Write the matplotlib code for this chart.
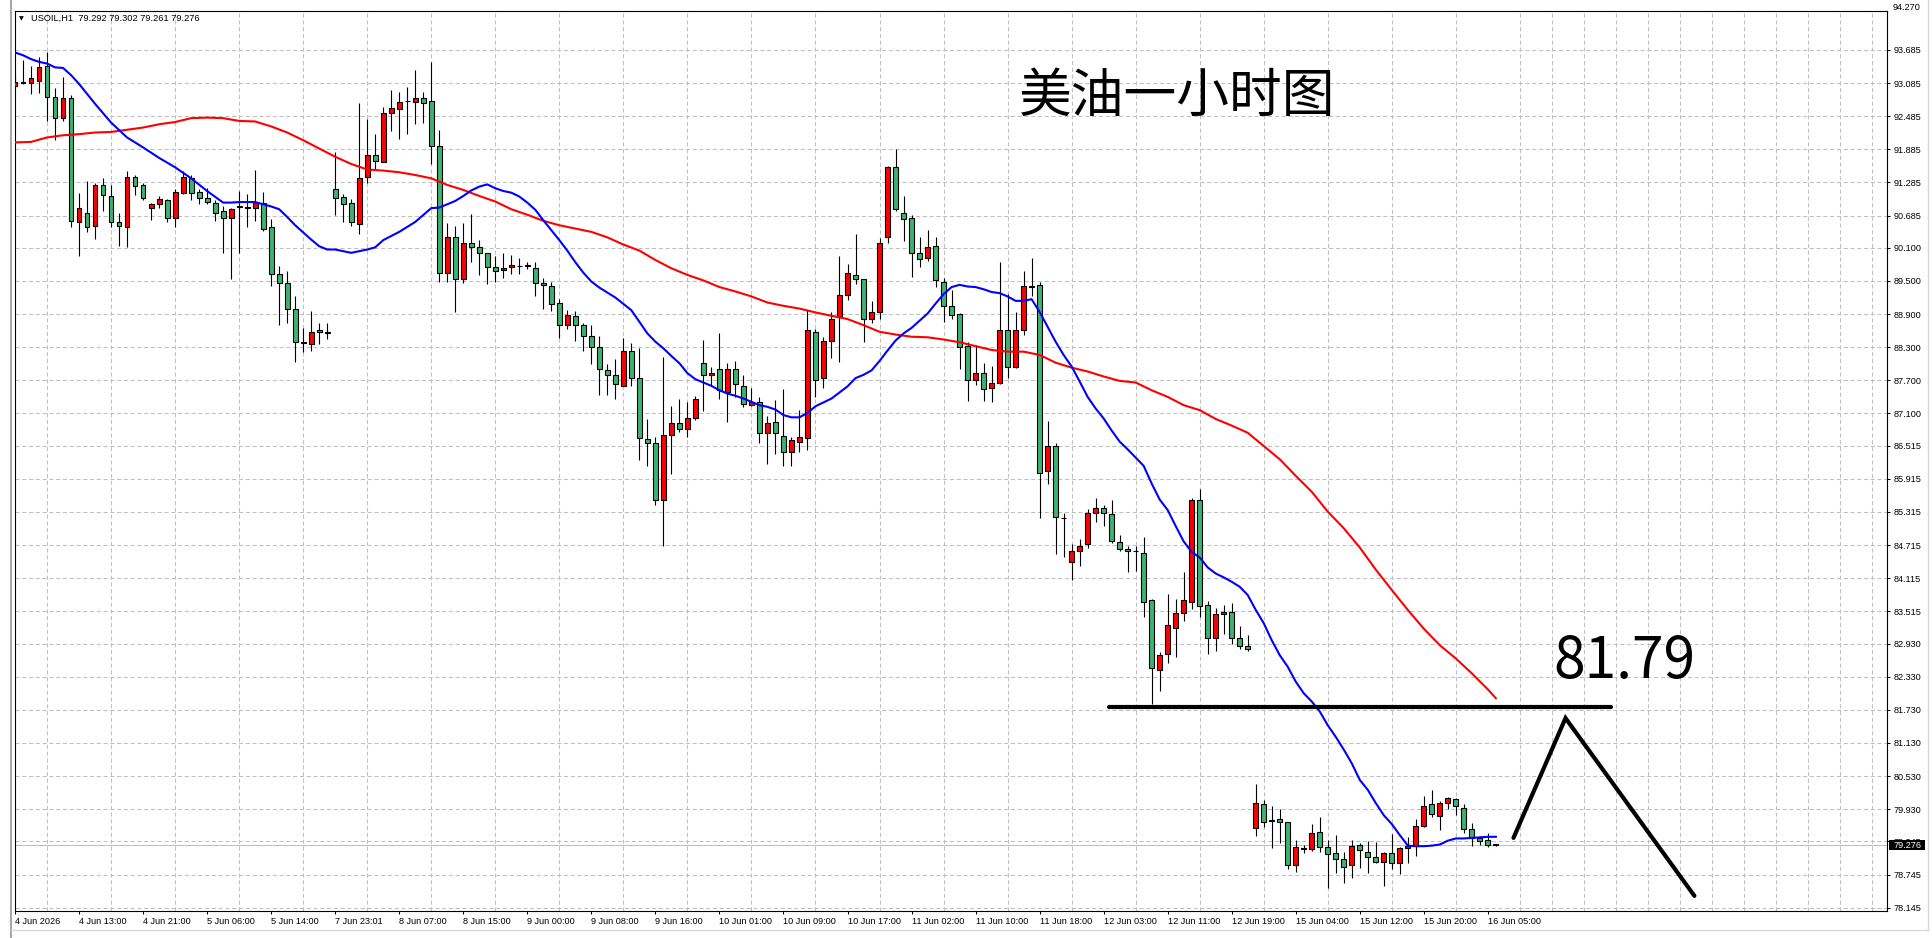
import numpy as np
import matplotlib
matplotlib.use("Agg")
import matplotlib.pyplot as plt
import matplotlib.transforms as mtransforms
from matplotlib.lines import Line2D
from matplotlib.patches import Rectangle

# USOIL H1 candles, one entry per bar (bar 0 = 4 Jun 2026 05:00)
opens = [93.03, 93.08, 93.08, 93.13, 93.40, 92.83, 92.46, 92.81, 90.57, 90.74,
         90.50, 91.24, 91.04, 90.56, 90.48, 91.38, 91.24, 90.82, 90.89, 90.96,
         90.65, 91.09, 91.36, 91.11, 91.00, 90.92, 90.77, 90.65, 90.85, 90.83,
         90.83, 90.92, 90.48, 89.62, 89.47, 89.00, 88.39, 88.36, 88.61, 88.56,
         91.16, 91.02, 90.91, 90.53, 91.38, 91.79, 91.66, 92.54, 92.61, 92.76,
         92.75, 92.81, 92.76, 91.94, 89.64, 90.30, 89.53, 90.18, 90.11, 90.00,
         89.75, 89.70, 89.75, 89.77, 89.77, 89.73, 89.47, 89.41, 89.11, 88.71,
         88.87, 88.71, 88.50, 88.31, 87.89, 87.79, 87.60, 88.23, 87.75, 86.63,
         86.56, 85.53, 86.71, 86.92, 86.82, 87.01, 88.01, 87.79, 87.90, 87.48,
         87.90, 87.60, 87.26, 87.30, 86.74, 86.94, 86.69, 86.41, 86.59, 86.65,
         88.57, 87.75, 88.41, 88.84, 89.24, 89.61, 89.53, 88.81, 88.93, 90.29,
         91.56, 90.73, 90.64, 90.00, 89.91, 90.14, 89.49, 89.04, 88.91, 88.33,
         87.71, 87.83, 87.57, 87.66, 88.61, 87.94, 88.62, 89.40, 89.43, 86.05,
         86.51, 85.21, 84.40, 84.61, 84.73, 85.29, 85.38, 85.27, 84.78, 84.64,
         84.60, 84.58, 83.72, 82.45, 82.75, 83.22, 83.48, 83.68, 85.53, 83.63,
         83.04, 83.46, 83.50, 83.04, 82.89, 79.59, 80.03, 79.73, 79.75, 79.69,
         78.91, 79.21, 79.20, 79.51, 79.24, 79.13, 79.02, 78.91, 79.29, 79.16,
         79.07, 78.97, 79.14, 78.95, 79.22, 79.27, 79.63, 80.02, 79.81, 80.04,
         80.12, 79.96, 79.58, 79.41, 79.38, 79.292]
highs = [93.25, 93.50, 93.40, 93.55, 93.64, 92.99, 93.19, 92.87, 91.10, 91.31,
         91.27, 91.37, 91.24, 90.74, 91.49, 91.42, 91.27, 90.92, 91.04, 90.98,
         91.16, 91.49, 91.42, 91.16, 91.18, 90.96, 90.85, 90.83, 91.13, 91.07,
         91.51, 91.12, 90.62, 89.77, 89.69, 89.22, 88.64, 88.96, 88.73, 88.73,
         91.84, 91.07, 90.98, 92.72, 92.43, 92.16, 92.65, 92.96, 92.93, 93.02,
         93.32, 92.93, 93.46, 92.24, 90.55, 90.50, 90.55, 90.71, 90.25, 90.01,
         89.95, 90.00, 89.97, 89.91, 89.84, 89.84, 89.55, 89.49, 89.18, 88.97,
         88.96, 88.73, 88.70, 88.50, 88.00, 88.08, 88.46, 88.37, 88.28, 87.00,
         86.68, 88.12, 87.24, 87.37, 87.31, 87.42, 88.43, 87.95, 88.55, 88.01,
         88.05, 87.79, 87.57, 87.40, 87.05, 87.34, 87.54, 86.68, 87.16, 88.97,
         88.63, 88.49, 88.93, 89.95, 89.81, 90.36, 89.53, 89.14, 90.27, 91.58,
         91.89, 91.04, 90.70, 90.29, 90.42, 90.29, 89.55, 89.34, 88.92, 88.39,
         88.34, 88.01, 87.96, 89.84, 89.26, 88.93, 89.68, 89.92, 89.49, 86.96,
         86.56, 85.29, 84.73, 84.82, 85.36, 85.56, 85.45, 85.53, 84.90, 84.70,
         84.70, 84.87, 83.73, 82.77, 83.83, 83.73, 84.22, 85.56, 85.74, 83.71,
         83.57, 83.63, 83.66, 83.25, 83.09, 80.38, 80.10, 79.99, 79.94, 79.70,
         79.37, 79.29, 79.67, 79.78, 79.38, 79.46, 79.15, 79.37, 79.32, 79.36,
         79.33, 79.16, 79.48, 79.25, 79.42, 79.75, 80.17, 80.28, 80.08, 80.15,
         80.14, 80.02, 79.68, 79.44, 79.49, 79.302]
lows = [92.99, 93.07, 92.88, 92.90, 92.39, 92.05, 92.39, 90.48, 89.95, 90.38,
        90.26, 90.76, 90.47, 90.13, 90.12, 91.05, 90.97, 90.60, 90.83, 90.57,
        90.48, 91.08, 90.96, 90.89, 90.89, 90.59, 90.01, 89.53, 90.00, 90.48,
        90.59, 90.41, 89.41, 88.71, 88.73, 88.03, 88.22, 88.24, 88.35, 88.44,
        90.70, 90.57, 90.50, 90.36, 91.28, 91.52, 91.65, 92.21, 92.07, 92.17,
        92.34, 92.37, 91.62, 89.49, 89.49, 88.93, 89.47, 89.85, 89.61, 89.44,
        89.48, 89.55, 89.62, 89.62, 89.71, 89.22, 89.00, 88.96, 88.47, 88.63,
        88.42, 88.24, 87.99, 87.43, 87.43, 87.36, 87.59, 87.60, 86.26, 86.14,
        85.44, 84.70, 86.01, 86.77, 86.68, 86.98, 87.15, 87.62, 87.37, 86.95,
        87.40, 87.22, 87.23, 86.56, 86.18, 86.36, 86.14, 86.15, 86.41, 86.43,
        87.39, 87.57, 88.10, 88.04, 89.16, 89.45, 88.39, 88.74, 88.82, 90.18,
        90.76, 90.23, 89.58, 89.76, 89.87, 89.40, 88.76, 88.82, 87.90, 87.33,
        87.62, 87.33, 87.30, 87.64, 87.74, 87.93, 88.52, 89.22, 85.20, 85.82,
        84.55, 84.50, 84.08, 84.34, 84.67, 85.14, 85.06, 84.76, 84.61, 84.23,
        84.25, 83.42, 81.83, 82.08, 82.58, 82.68, 83.34, 83.55, 83.42, 82.75,
        82.80, 83.10, 82.93, 82.84, 82.80, 79.44, 79.61, 79.22, 79.31, 78.84,
        78.80, 79.13, 79.18, 79.15, 78.50, 78.77, 78.59, 78.69, 78.86, 78.78,
        78.95, 78.54, 78.84, 78.76, 78.96, 79.08, 79.61, 79.79, 79.55, 79.94,
        79.82, 79.50, 79.27, 79.28, 79.25, 79.261]
closes = [93.11, 93.10, 93.17, 93.37, 92.84, 92.46, 92.81, 90.59, 90.82, 90.48,
          91.24, 91.05, 90.56, 90.50, 91.38, 91.23, 91.00, 90.89, 90.98, 90.64,
          91.12, 91.38, 91.10, 91.00, 90.94, 90.74, 90.65, 90.80, 90.84, 90.84,
          90.91, 90.45, 89.62, 89.47, 88.99, 88.39, 88.38, 88.58, 88.57, 88.57,
          91.01, 90.89, 90.56, 91.36, 91.79, 91.68, 92.54, 92.63, 92.74, 92.77,
          92.81, 92.73, 91.95, 89.64, 90.30, 89.53, 90.18, 90.11, 90.00, 89.75,
          89.69, 89.74, 89.79, 89.77, 89.79, 89.47, 89.42, 89.09, 88.71, 88.88,
          88.71, 88.51, 88.31, 87.90, 87.79, 87.63, 88.23, 87.75, 86.65, 86.56,
          85.53, 86.71, 86.92, 86.82, 87.01, 87.37, 87.80, 87.83, 87.53, 87.90,
          87.63, 87.28, 87.30, 86.74, 86.92, 86.74, 86.41, 86.62, 86.67, 88.61,
          87.71, 88.41, 88.82, 89.24, 89.64, 89.54, 88.81, 88.94, 90.18, 91.56,
          90.80, 90.63, 90.00, 89.89, 90.12, 89.52, 89.05, 88.88, 88.30, 87.71,
          87.83, 87.55, 87.66, 88.62, 87.94, 88.62, 89.41, 89.41, 86.03, 86.51,
          85.22, 85.21, 84.61, 84.70, 85.29, 85.38, 85.29, 84.79, 84.64, 84.60,
          84.60, 83.69, 82.48, 82.72, 83.26, 83.48, 83.72, 85.53, 83.62, 83.04,
          83.46, 83.50, 83.04, 82.89, 82.84, 80.05, 79.70, 79.72, 79.69, 78.91,
          79.24, 79.22, 79.49, 79.24, 79.11, 79.02, 78.89, 79.27, 79.19, 79.07,
          78.97, 79.14, 78.95, 79.22, 79.26, 79.63, 79.99, 79.84, 80.04, 80.14,
          79.99, 79.58, 79.40, 79.36, 79.29, 79.276]

# moving averages (bar index, price)
blue_bars = [0, 1, 2, 3, 4, 5, 6, 7, 8, 10, 12, 14, 16, 18, 20, 22, 24, 26, 27, 28,
             30, 31, 32, 33, 34, 35, 36, 37, 38, 39, 40, 42, 44, 45, 46, 48, 50, 52, 53, 55,
             56, 57, 58, 59, 60, 61, 62, 63, 64, 65, 66, 67, 68, 69, 70, 71, 72, 73, 74, 75,
             77, 78, 79, 80, 81, 82, 83, 84, 85, 86, 87, 88, 89, 90, 91, 92, 93, 94, 95, 96,
             97, 98, 99, 100, 101, 102, 103, 104, 105, 106, 107, 108, 109, 110, 111, 112,
             113, 114, 115, 116, 117, 118, 119, 120, 121, 122, 123, 124, 125, 126, 127,
             128, 129, 130, 131, 132, 133, 134, 135, 136, 137, 138, 139, 140, 141, 142,
             143, 144, 145, 146, 147, 148, 149, 150, 151, 152, 153, 154, 155, 156, 157,
             158, 159, 160, 161, 162, 163, 164, 165, 166, 167, 168, 169, 170, 171, 172,
             173, 174, 175, 176, 177, 178, 179, 180, 181, 182, 183, 184, 185]
blue_vals = [93.64, 93.59, 93.52, 93.47, 93.44, 93.37, 93.36, 93.23, 93.07, 92.71,
             92.37, 92.10, 91.92, 91.73, 91.56, 91.36, 91.13, 90.92, 90.92, 90.93,
             90.93, 90.89, 90.85, 90.80, 90.66, 90.51, 90.38, 90.25, 90.13, 90.07,
             90.07, 90.01, 90.07, 90.11, 90.24, 90.39, 90.57, 90.82, 90.83, 90.95,
             91.04, 91.14, 91.21, 91.25, 91.18, 91.13, 91.10, 91.03, 90.92, 90.79,
             90.60, 90.42, 90.24, 90.05, 89.84, 89.65, 89.49, 89.38, 89.29, 89.20,
             88.97, 88.76, 88.55, 88.40, 88.28, 88.14, 88.01, 87.83, 87.72, 87.66,
             87.60, 87.52, 87.46, 87.42, 87.37, 87.31, 87.25, 87.22, 87.17, 87.07,
             87.03, 87.03, 87.11, 87.23, 87.30, 87.37, 87.48, 87.59, 87.74, 87.80,
             87.88, 88.05, 88.24, 88.42, 88.55, 88.65, 88.78, 88.91, 89.09, 89.26,
             89.39, 89.43, 89.40, 89.39, 89.35, 89.30, 89.28, 89.22, 89.14, 89.14,
             89.17, 88.94, 88.67, 88.40, 88.16, 87.95, 87.68, 87.40, 87.19, 87.01,
             86.79, 86.59, 86.45, 86.30, 86.15, 85.83, 85.54, 85.35, 85.06, 84.78,
             84.59, 84.49, 84.31, 84.20, 84.13, 84.05, 83.96, 83.81, 83.54, 83.30,
             82.99, 82.72, 82.51, 82.24, 82.03, 81.88, 81.70, 81.45, 81.24, 81.01,
             80.76, 80.46, 80.28, 80.04, 79.82, 79.66, 79.46, 79.27, 79.26, 79.26,
             79.27, 79.29, 79.36, 79.40, 79.40, 79.41, 79.42, 79.43, 79.43]
red_bars = [0, 2, 4, 6, 8, 10, 12, 14, 16, 18, 20, 22, 24, 26, 28, 30, 32, 34, 36, 38,
            40, 42, 44, 46, 48, 50, 52, 54, 56, 58, 60, 62, 64, 66, 68, 70, 72, 74, 76, 78,
            80, 82, 84, 86, 88, 90, 92, 94, 96, 98, 100, 102, 104, 106, 108, 110, 112, 114,
            116, 118, 120, 122, 124, 126, 128, 130, 132, 134, 136, 138, 140, 142, 144, 146,
            148, 150, 152, 154, 156, 158, 160, 162, 164, 166, 168, 170, 172, 174, 176, 178,
            180, 182, 184, 185]
red_vals = [92.01, 92.02, 92.10, 92.14, 92.16, 92.19, 92.20, 92.24, 92.28, 92.34,
            92.38, 92.45, 92.46, 92.45, 92.40, 92.39, 92.30, 92.19, 92.05, 91.90,
            91.75, 91.62, 91.52, 91.50, 91.47, 91.42, 91.36, 91.24, 91.15, 91.04,
            90.94, 90.80, 90.70, 90.59, 90.51, 90.45, 90.39, 90.29, 90.16, 90.05,
            89.88, 89.73, 89.61, 89.51, 89.39, 89.31, 89.22, 89.11, 89.05, 89.00,
            88.93, 88.87, 88.81, 88.70, 88.58, 88.53, 88.49, 88.48, 88.44, 88.39,
            88.32, 88.25, 88.22, 88.22, 88.16, 88.02, 87.93, 87.86, 87.77, 87.69,
            87.66, 87.52, 87.40, 87.25, 87.16, 87.00, 86.88, 86.75, 86.51, 86.27,
            85.97, 85.68, 85.32, 85.02, 84.67, 84.27, 83.90, 83.54, 83.20, 82.90,
            82.66, 82.39, 82.10, 81.94]

price_ticks = [93.685, 93.085, 92.485, 91.885, 91.285, 90.685, 90.100, 89.500, 88.900,
               88.300, 87.700, 87.100, 86.515, 85.915, 85.315, 84.715, 84.115, 83.515,
               82.930, 82.330, 81.730, 81.130, 80.530, 79.930, 79.345, 78.745, 78.145]
time_labels = ["4 Jun 2026", "4 Jun 13:00", "4 Jun 21:00", "5 Jun 06:00", "5 Jun 14:00",
               "7 Jun 23:01", "8 Jun 07:00", "8 Jun 15:00", "9 Jun 00:00", "9 Jun 08:00",
               "9 Jun 16:00", "10 Jun 01:00", "10 Jun 09:00", "10 Jun 17:00",
               "11 Jun 02:00", "11 Jun 10:00", "11 Jun 18:00", "12 Jun 03:00",
               "12 Jun 11:00", "12 Jun 19:00", "15 Jun 04:00", "15 Jun 12:00",
               "15 Jun 20:00", "16 Jun 05:00"]

# hand drawn annotations
level_price = 81.79
level_from, level_to = 136.7, 199.4
zig_bars = [187.2, 193.7, 209.8]
zig_prices = [79.41, 81.58, 78.36]
last_price = 79.276

plt.rcParams['font.family'] = ['Liberation Sans', 'DejaVu Sans']

W, H = 1932, 938
fig = plt.figure(figsize=(W / 100, H / 100), dpi=100)
L, R, T, B = 14.7, 1887.3, 10.7, 910.7
ax = fig.add_axes([L / W, 1 - B / H, (R - L) / W, (B - T) / H])

o = np.array(opens); h = np.array(highs); l = np.array(lows); c = np.array(closes)
x = np.arange(len(o))
up = c >= o

ax.set_xlim(-0.04, 233.9)
ax.set_ylim(78.091, 94.397)

ax.vlines(x, l, h, color='black', lw=0.8, zorder=3)
ax.bar(x, np.abs(c - o), bottom=np.minimum(o, c), width=0.6,
       color=np.where(up, '#ff0000', '#3cb371'), edgecolor='black', linewidth=0.8, zorder=4)

ax.plot(red_bars, red_vals, color='#ff0000', lw=1.5, zorder=5)
ax.plot(blue_bars, blue_vals, color='#0000ff', lw=1.5, zorder=5)

ax.axhline(last_price, color='#c0c0c0', lw=0.75, zorder=2)

# annotation lines
ax.plot([level_from, level_to], [level_price, level_price], color='black', lw=3.0,
        solid_capstyle='round', zorder=6)
ax.plot(zig_bars, zig_prices, color='black', lw=3.0, solid_capstyle='round',
        solid_joinstyle='miter', zorder=6)

# grid and axes
ax.set_xticks(np.arange(0, 8 * len(time_labels), 8))
ax.set_xticklabels(time_labels, ha='left', fontsize=6.6)
ax.set_xticks(np.arange(0, 234, 4), minor=True)
ax.set_yticks(price_ticks)
ax.set_yticklabels(["%.3f" % v for v in price_ticks], fontsize=6.6)
ax.yaxis.tick_right()
ax.tick_params(axis='both', which='major', direction='out', length=2.3, width=0.75,
               color='black', labelcolor='black')
ax.tick_params(axis='x', which='major', pad=2.5)
ax.tick_params(axis='y', which='major', pad=2.0)
ax.tick_params(axis='x', which='minor', length=0)
ax.grid(which='minor', axis='x', color='#c0c0c0', lw=0.75, ls=(0, (4, 2.5)))
ax.grid(which='major', axis='y', color='#c0c0c0', lw=0.75, ls=(0, (4, 2.5)))
ax.set_axisbelow(True)
for s in ax.spines.values():
    s.set_linewidth(0.8)
    s.set_color('black')

# current price tag on the price axis
trans = mtransforms.blended_transform_factory(ax.transAxes, ax.transData)
ax.add_patch(Rectangle((1.0011, last_price - 0.0905), 0.019, 0.181, transform=trans,
                       facecolor='black', edgecolor='none', clip_on=False, zorder=10))
ax.text(1.0031, last_price, "%.3f" % last_price, transform=trans, color='white',
        fontsize=6.6, va='center', ha='left', clip_on=False, zorder=11)

fig.text(1893 / W, 1 - 7.3 / H, "94.270", fontsize=6.6, va='center', ha='left')

# header
fig.text(21.7 / W, 1 - 18.3 / H, "\u25bc", family='DejaVu Sans', fontsize=4.5,
         va='center', ha='center')
fig.text(30.7 / W, 1 - 18.3 / H, "USOIL,H1  79.292 79.302 79.261 79.276", fontsize=6.7,
         va='center', ha='left')

# big labels
fig.text(1177 / W, 1 - 96 / H, "美油一小时图", family=['Noto Sans CJK SC', 'DejaVu Sans'],
         fontsize=38, fontweight='medium', va='center', ha='center')
fig.text(1624 / W, 1 - 678 / H, "81.79", family=['Noto Sans CJK SC', 'DejaVu Sans'],
         fontsize=41, fontweight='medium', va='baseline', ha='center')

# window frame
fig.add_artist(Line2D([11 / W, 11 / W], [0, 1], color='#a8a8a8', lw=1.5,
                      transform=fig.transFigure))
fig.add_artist(Line2D([1928 / W, 1928 / W], [1 - 930 / H, 1], color='#d8d8d8', lw=1.0,
                      transform=fig.transFigure))
fig.add_artist(Line2D([11 / W, 1928 / W], [1 - 930 / H, 1 - 930 / H], color='#d8d8d8',
                      lw=1.0, transform=fig.transFigure))

fig.savefig("out.png", dpi=100, facecolor='white')
